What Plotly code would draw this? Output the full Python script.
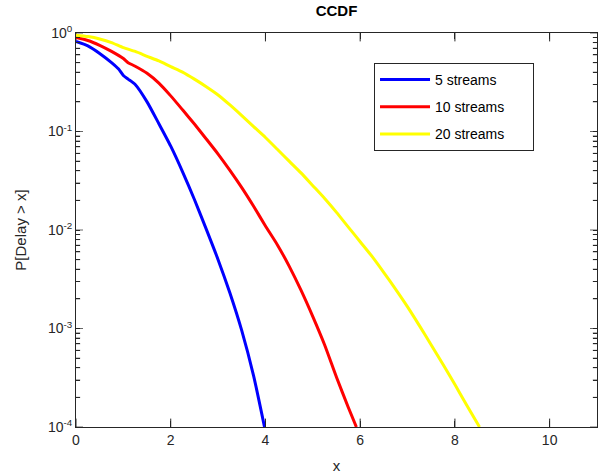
import plotly.graph_objects as go

# Data
x5 = [0, 0.25, 0.5, 0.75, 0.9, 1.0, 1.1, 1.25, 1.5, 1.75, 2.0, 2.25, 2.5, 2.75, 3.0, 3.25, 3.5, 3.75, 3.98]
y5 = [0.82, 0.74, 0.62, 0.50, 0.43, 0.37, 0.34, 0.30, 0.20, 0.120, 0.071, 0.039, 0.0204, 0.0102,
      0.0050, 0.00229, 0.00095, 0.00033, 0.0001]

x10 = [0, 0.25, 0.5, 0.75, 1.0, 1.1, 1.25, 1.5, 1.75, 2.0, 2.25, 2.5, 2.75, 3.0, 3.25, 3.5,
       3.75, 4.0, 4.25, 4.5, 4.75, 5.0, 5.25, 5.5, 5.75, 5.92]
y10 = [0.90, 0.84, 0.75, 0.65, 0.55, 0.50, 0.46, 0.39, 0.31, 0.23, 0.166, 0.119, 0.084, 0.059,
       0.0403, 0.0269, 0.0174, 0.011, 0.0071, 0.0043, 0.00245, 0.00132, 0.00068, 0.00032, 0.000158, 0.0001]

x20 = [0, 0.25, 0.5, 0.75, 1.0, 1.25, 1.5, 1.75, 2.0, 2.25, 2.5, 2.75, 3.0, 3.25, 3.5, 3.75,
       4.0, 4.25, 4.5, 4.75, 5.0, 5.25, 5.5, 5.75, 6.0, 6.25, 6.5, 6.75, 7.0, 7.25, 7.5, 7.75,
       8.0, 8.25, 8.52]
y20 = [0.95, 0.92, 0.87, 0.80, 0.71, 0.65, 0.58, 0.52, 0.455, 0.40, 0.34, 0.285, 0.235, 0.186,
       0.145, 0.112, 0.087, 0.066, 0.050, 0.0380, 0.0282, 0.0209, 0.0151, 0.0107, 0.0076, 0.0054,
       0.0037, 0.0025, 0.00166, 0.00107, 0.00068, 0.00043, 0.00027, 0.000166, 0.0001]

names = ["5 streams", "10 streams", "20 streams"]
colors = ["#0000ff", "#ff0000", "#ffff00"]

x_range = [0, 11]
x_ticks = [0, 2, 4, 6, 8, 10]
y_decades = [1e-4, 1e-3, 1e-2, 1e-1, 1e0]
y_labels = ["10<sup>-4</sup>", "10<sup>-3</sup>", "10<sup>-2</sup>", "10<sup>-1</sup>", "10<sup>0</sup>"]
y_minor = [m * 10.0 ** e for e in range(-4, 0) for m in range(2, 10)]

y_tickvals = y_decades + y_minor
y_ticktext = y_labels + [""] * len(y_minor)

TICK = "#262626"
fig = go.Figure()

# MATLAB-style inside tick marks on all four sides (clipped to the plot area)
y_tick_sizes = [10] * len(y_decades) + [6] * len(y_minor)
for xe in x_range:
    fig.add_trace(go.Scatter(x=[xe] * len(y_tickvals), y=y_tickvals, mode="markers",
                             marker=dict(symbol="line-ew", size=y_tick_sizes, color=TICK,
                                         line=dict(color=TICK, width=1)),
                             showlegend=False, hoverinfo="skip", cliponaxis=True))
for ye in [y_decades[0], y_decades[-1]]:
    fig.add_trace(go.Scatter(x=x_ticks, y=[ye] * len(x_ticks), mode="markers",
                             marker=dict(symbol="line-ns", size=12, color=TICK,
                                         line=dict(color=TICK, width=1)),
                             showlegend=False, hoverinfo="skip", cliponaxis=True))

for i, (xs, ys) in enumerate([(x5, y5), (x10, y10), (x20, y20)]):
    fig.add_trace(go.Scatter(x=xs, y=ys, mode="lines", name=names[i] + "\u00a0" * 6,
                             legendgroup=f"g{i}",
                             line=dict(color=colors[i], width=3, shape="spline", smoothing=0.6)))

FONT = "Liberation Sans, Arial"
axis_common = dict(showline=True, linecolor=TICK, linewidth=1, mirror="allticks",
                   ticks="inside", tickcolor=TICK, tickwidth=1, automargin=False,
                   showgrid=False, zeroline=False, layer="above traces",
                   tickfont=dict(family=FONT, size=14, color=TICK))

fig.update_xaxes(range=x_range, tickmode="array", tickvals=x_ticks, ticklen=6,
                 title=dict(text="x", font=dict(family=FONT, size=15, color=TICK),
                            standoff=13),
                 **axis_common)
fig.update_yaxes(type="log", range=[-4, 0], tickmode="array", tickvals=y_tickvals, ticktext=y_ticktext,
                 ticklen=4,
                 title=dict(text="P[Delay > x]", font=dict(family=FONT, size=15, color=TICK),
                            standoff=17),
                 **axis_common)

fig.update_layout(
    template="none",
    width=600, height=476,
    margin=dict(l=76, r=3, t=33, b=49, autoexpand=False),
    paper_bgcolor="white", plot_bgcolor="white",
    font=dict(family=FONT, color=TICK),
    title=dict(text="<b>CCDF</b>", x=336.5 / 600, xanchor="center", y=1 - 11 / 476, yanchor="middle",
               font=dict(family=FONT, size=15, color="#000000")),
    legend=dict(x=0.572, y=0.924, xanchor="left", yanchor="top",
                bordercolor=TICK, borderwidth=1, bgcolor="white",
                traceorder="grouped", tracegroupgap=6, itemwidth=50,
                font=dict(family=FONT, size=14, color="#000000")),
    showlegend=True,
)

fig.write_html("out.html", config={"displayModeBar": False})
with open("out.html", "r", encoding="utf-8") as f:
    html = f.read()
html = html.replace("<body>", '<body style="margin:0;overflow:hidden">', 1)
with open("out.html", "w", encoding="utf-8") as f:
    f.write(html)
